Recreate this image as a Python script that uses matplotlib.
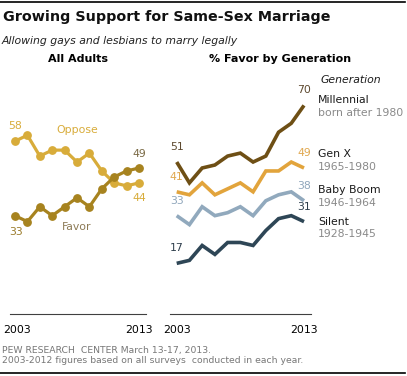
import matplotlib.pyplot as plt
from matplotlib.lines import Line2D

years = list(range(2003, 2014))

# All adults
oppose = [58, 60, 53, 55, 55, 51, 54, 48, 44, 43, 44]
favor = [33, 31, 36, 33, 36, 39, 36, 42, 46, 48, 49]

# % favor by generation
millennial = [51, 44, 49, 50, 53, 54, 51, 53, 61, 64, 70]
gen_x = [41, 40, 44, 40, 42, 44, 41, 48, 48, 51, 49]
baby_boom = [33, 30, 36, 33, 34, 36, 33, 38, 40, 41, 38]
silent = [17, 18, 23, 20, 24, 24, 23, 28, 32, 33, 31]

gen_names = ['Millennial', 'Gen X', 'Baby Boom', 'Silent']
gen_years = ['born after 1980', '1965-1980', '1946-1964', '1928-1945']

W, H = 407, 376
fig = plt.figure(figsize=(W / 100, H / 100), dpi=100)
plt.rcParams['font.family'] = 'DejaVu Sans'


def fx(px):
    return px / W


def fy(py):
    return 1 - py / H


def add_ax(x0, x1, xlim):
    # baseline (value 0) sits at y=314 px, ~2.98 px per point
    ax = fig.add_axes([fx(x0), fy(314), fx(x1) - fx(x0), (314 - 93.5) / H])
    ax.set_xlim(*xlim)
    ax.set_ylim(0, 74)
    for s in ['top', 'right', 'left']:
        ax.spines[s].set_visible(False)
    ax.spines['bottom'].set_color('#404040')
    ax.spines['bottom'].set_linewidth(0.8)
    ax.set_xticks([])
    ax.set_yticks([])
    ax.patch.set_alpha(0)
    return ax


c_opp = '#D8AC3A'
c_fav = '#A7831F'

ax1 = add_ax(10, 146, (2003 - 5 / 12.4, 2013 + 7 / 12.4))
ax1.plot(years, oppose, color=c_opp, lw=2.3, marker='o', ms=5.3, zorder=2)
ax1.plot(years, favor, color=c_fav, lw=2.3, marker='o', ms=5.3, zorder=3)

num_kw = dict(textcoords='offset pixels', ha='center', va='center', fontsize=7.8)
ax1.annotate(str(oppose[0]), (years[0], oppose[0]), xytext=(0, 15), color=c_opp, **num_kw)
ax1.annotate(str(oppose[-1]), (years[-1], oppose[-1]), xytext=(0, -15), color=c_opp, **num_kw)
ax1.annotate(str(favor[0]), (years[0], favor[0]), xytext=(1, -16), color='#9A7B2A', **num_kw)
ax1.annotate(str(favor[-1]), (years[-1], favor[-1]), xytext=(0, 14), color='#7A6A45', **num_kw)
ax1.text(2008.0, 61.7, 'Oppose', color=c_opp, fontsize=7.8, ha='center', va='center')
ax1.text(2008.0, 29.2, 'Favor', color='#8C7A55', fontsize=7.8, ha='center', va='center')

ax2 = add_ax(170, 311, (2003 - 6.7 / 12.73, 2013 + 7 / 12.73))
gen_series = [millennial, gen_x, baby_boom, silent]
gen_colors = ['#6E4F15', '#E2A43C', '#91A9BD', '#2E4656']
num_colors = ['#5E4A30', '#E0A850', '#8FA6BB', '#2E3E4C']
for vals, col, ncol in zip(gen_series, gen_colors, num_colors):
    ax2.plot(years, vals, color=col, lw=2.6, solid_joinstyle='miter', solid_capstyle='butt')
    ax2.annotate(str(vals[0]), (years[0], vals[0]), xytext=(0, 15), color=ncol, **num_kw)
    ax2.annotate(str(vals[-1]), (years[-1], vals[-1]), xytext=(0, 15), color=ncol, **num_kw)

# series labels
name_y = [100, 154, 190, 221.7]
for name, yr, y in zip(gen_names, gen_years, name_y):
    fig.text(fx(318), fy(y), name, fontsize=7.8, color='#1a1a1a', va='center', ha='left')
    fig.text(fx(318), fy(y + 12.7), yr, fontsize=7.8, color='#8a8a8a', va='center', ha='left')
fig.text(fx(321), fy(80), 'Generation', fontsize=7.8, style='italic', color='#1a1a1a', va='center')

# titles
fig.text(fx(3), fy(16.7), 'Growing Support for Same-Sex Marriage', fontsize=10.3,
         fontweight='bold', va='center', ha='left', color='#111111')
fig.text(fx(2), fy(41), 'Allowing gays and lesbians to marry legally', fontsize=7.8,
         style='italic', va='center', ha='left', color='#222222')
fig.text(fx(78), fy(59), 'All Adults', fontsize=8, fontweight='bold', va='center', ha='center')
fig.text(fx(280), fy(59), '% Favor by Generation', fontsize=8, fontweight='bold',
         va='center', ha='center')

# year labels
fig.text(fx(3), fy(330), '2003', fontsize=7.8, va='center', ha='left')
fig.text(fx(153), fy(330), '2013', fontsize=7.8, va='center', ha='right')
fig.text(fx(163), fy(330), '2003', fontsize=7.8, va='center', ha='left')
fig.text(fx(318), fy(330), '2013', fontsize=7.8, va='center', ha='right')

# footer
fig.text(fx(2), fy(350.7), 'PEW RESEARCH  CENTER March 13-17, 2013.', fontsize=6.7,
         color='#777777', va='center')
fig.text(fx(2), fy(360.7), '2003-2012 figures based on all surveys  conducted in each year.',
         fontsize=6.7, color='#777777', va='center')

# rules
fig.add_artist(Line2D([0, fx(405)], [fy(1.7), fy(1.7)], color='black', lw=1.2))
fig.add_artist(Line2D([0, fx(405)], [fy(372.7), fy(372.7)], color='black', lw=1.2))

fig.savefig('out.png', dpi=100)
